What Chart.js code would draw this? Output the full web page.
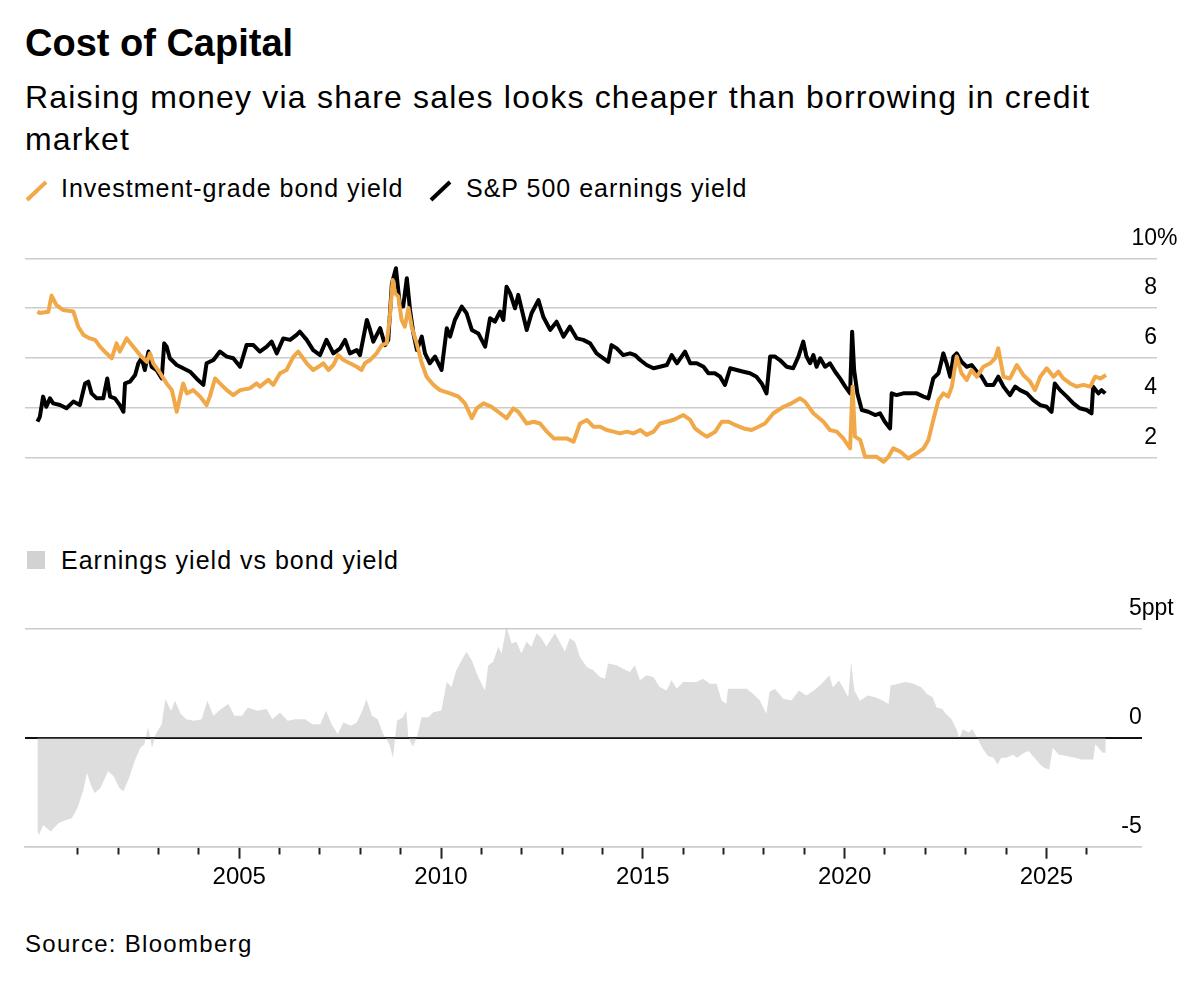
<!DOCTYPE html>
<html>
<head>
<meta charset="utf-8">
<script src="https://cdn.jsdelivr.net/npm/chart.js@4"></script>
<style>
  body { margin: 0; background: #fff; }
  #page { position: relative; width: 1200px; height: 993px; overflow: hidden;
          font-family: "Liberation Sans", Arial, sans-serif; color: #000; }
  .txt { position: absolute; left: 25px; white-space: nowrap; }
  #title { top: 21px; font-size: 38px; line-height: 44px; font-weight: bold; }
  #subtitle { top: 76px; font-size: 32px; line-height: 42px; letter-spacing: 1.2px; white-space: normal; width: 1120px; }
  .leg { position: absolute; font-size: 25px; line-height: 30px; letter-spacing: 1px; white-space: nowrap; }
  #source { top: 930px; font-size: 24px; line-height: 28px; letter-spacing: 1.3px; }
  .box { position: absolute; }
</style>
</head>
<body>
<div id="page">
  <div class="txt" id="title">Cost of Capital</div>
  <div class="txt" id="subtitle">Raising money via share sales looks cheaper than borrowing in credit market</div>

  <svg class="box" style="left:24px;top:179px" width="26" height="24"><line x1="3" y1="21" x2="22" y2="3" stroke="#f0a848" stroke-width="4"/></svg>
  <div class="leg" style="left:61px;top:173px">Investment-grade bond yield</div>
  <svg class="box" style="left:428px;top:179px" width="26" height="24"><line x1="3" y1="21" x2="22" y2="3" stroke="#000" stroke-width="4"/></svg>
  <div class="leg" style="left:466px;top:173px">S&amp;P 500 earnings yield</div>

  <div class="box" style="left:27px;top:551px;width:18px;height:18px;background:#d2d2d2"></div>
  <div class="leg" style="left:61px;top:545px">Earnings yield vs bond yield</div>

  <div class="box" style="left:0;top:220px"><canvas id="top" width="1200" height="280"></canvas></div>
  <div class="box" style="left:0;top:580px"><canvas id="bottom" width="1200" height="320"></canvas></div>

  <div class="txt" id="source">Source: Bloomberg</div>
</div>
<script>
// Investment-grade bond yield (%), dates as decimal years
const bondDates = [2000.00, 2000.06, 2000.27, 2000.35, 2000.47, 2000.64, 2000.89, 2001.01, 2001.14, 2001.30,
  2001.43, 2001.55, 2001.71, 2001.84, 2001.96, 2002.04, 2002.21, 2002.37, 2002.54, 2002.71,
  2002.79, 2002.87, 2003.04, 2003.20, 2003.33, 2003.45, 2003.61, 2003.70, 2003.86, 2004.03,
  2004.19, 2004.27, 2004.40, 2004.52, 2004.69, 2004.85, 2005.02, 2005.26, 2005.43, 2005.51,
  2005.72, 2005.84, 2006.01, 2006.17, 2006.34, 2006.46, 2006.67, 2006.83, 2006.96, 2007.08,
  2007.21, 2007.33, 2007.45, 2007.58, 2007.74, 2007.91, 2008.03, 2008.11, 2008.24, 2008.40,
  2008.53, 2008.65, 2008.73, 2008.80, 2008.86, 2008.94, 2009.02, 2009.10, 2009.19, 2009.27,
  2009.39, 2009.52, 2009.64, 2009.81, 2009.97, 2010.22, 2010.43, 2010.59, 2010.76, 2010.88,
  2011.05, 2011.25, 2011.46, 2011.62, 2011.79, 2011.91, 2012.12, 2012.29, 2012.45, 2012.62,
  2012.79, 2012.95, 2013.11, 2013.28, 2013.44, 2013.61, 2013.77, 2013.94, 2014.10, 2014.27,
  2014.43, 2014.60, 2014.76, 2014.93, 2015.09, 2015.26, 2015.42, 2015.59, 2015.75, 2016.00,
  2016.17, 2016.29, 2016.45, 2016.58, 2016.79, 2016.95, 2017.12, 2017.28, 2017.49, 2017.69,
  2017.86, 2018.02, 2018.23, 2018.48, 2018.68, 2018.89, 2019.01, 2019.22, 2019.47, 2019.63,
  2019.80, 2019.96, 2020.13, 2020.19, 2020.25, 2020.38, 2020.50, 2020.63, 2020.79, 2020.96,
  2021.08, 2021.20, 2021.37, 2021.57, 2021.78, 2021.95, 2022.07, 2022.19, 2022.32, 2022.44,
  2022.56, 2022.65, 2022.77, 2022.89, 2023.02, 2023.14, 2023.27, 2023.43, 2023.60, 2023.72,
  2023.80, 2023.93, 2024.09, 2024.26, 2024.42, 2024.59, 2024.71, 2024.84, 2025.00, 2025.17,
  2025.29, 2025.41, 2025.58, 2025.74, 2025.91, 2026.08, 2026.20, 2026.33, 2026.47];
const bondYield = [7.86, 7.80, 7.85, 8.50, 8.12, 7.92, 7.86, 7.25, 6.92, 6.78,
  6.72, 6.45, 6.18, 5.98, 6.58, 6.25, 6.78, 6.45, 6.11, 5.84,
  6.18, 5.78, 5.38, 4.97, 4.70, 3.83, 4.97, 4.57, 4.70, 4.44,
  4.10, 4.44, 5.17, 4.97, 4.70, 4.50, 4.70, 4.77, 4.97, 4.84,
  5.11, 4.91, 5.38, 5.51, 6.05, 6.25, 5.78, 5.51, 5.64, 5.78,
  5.51, 5.71, 6.11, 5.91, 5.78, 5.64, 5.51, 5.78, 5.91, 6.18,
  6.51, 6.58, 7.65, 9.13, 8.59, 8.46, 7.52, 7.25, 8.00, 7.25,
  6.60, 5.78, 5.24, 4.91, 4.70, 4.57, 4.44, 4.17, 3.57, 3.97,
  4.17, 4.03, 3.77, 3.57, 3.97, 3.83, 3.36, 3.43, 3.36, 3.03,
  2.76, 2.76, 2.76, 2.63, 3.36, 3.50, 3.23, 3.23, 3.10, 3.03,
  2.96, 3.03, 2.96, 3.10, 2.90, 3.03, 3.36, 3.43, 3.50, 3.70,
  3.50, 3.16, 2.96, 2.83, 3.03, 3.43, 3.43, 3.30, 3.16, 3.10,
  3.23, 3.36, 3.77, 4.03, 4.17, 4.37, 4.24, 3.77, 3.43, 3.10,
  3.03, 2.76, 2.36, 4.84, 2.83, 2.70, 2.02, 2.02, 2.02, 1.82,
  2.02, 2.36, 2.23, 1.95, 2.16, 2.36, 2.70, 3.50, 4.30, 4.57,
  4.44, 4.84, 6.05, 5.38, 5.11, 5.51, 5.24, 5.64, 5.78, 5.98,
  6.38, 5.24, 5.17, 5.71, 5.31, 5.04, 4.70, 5.24, 5.58, 5.24,
  5.44, 5.17, 4.97, 4.84, 4.91, 4.84, 5.24, 5.17, 5.31];

// S&P 500 earnings yield (%)
const earnDates = [2000.00, 2000.06, 2000.14, 2000.22, 2000.31, 2000.39, 2000.56, 2000.72, 2000.89, 2001.05,
  2001.18, 2001.26, 2001.34, 2001.47, 2001.63, 2001.73, 2001.80, 2001.92, 2002.04, 2002.13,
  2002.17, 2002.29, 2002.42, 2002.50, 2002.58, 2002.66, 2002.75, 2002.83, 2002.95, 2003.08,
  2003.14, 2003.20, 2003.28, 2003.45, 2003.61, 2003.78, 2003.94, 2004.11, 2004.19, 2004.36,
  2004.52, 2004.69, 2004.85, 2005.02, 2005.18, 2005.35, 2005.51, 2005.68, 2005.80, 2005.93,
  2006.09, 2006.26, 2006.42, 2006.50, 2006.67, 2006.83, 2007.00, 2007.16, 2007.33, 2007.50,
  2007.62, 2007.74, 2007.91, 2007.99, 2008.16, 2008.24, 2008.32, 2008.49, 2008.61, 2008.69,
  2008.78, 2008.88, 2008.98, 2009.06, 2009.15, 2009.23, 2009.31, 2009.40, 2009.52, 2009.60,
  2009.72, 2009.85, 2010.01, 2010.14, 2010.22, 2010.34, 2010.51, 2010.63, 2010.76, 2010.92,
  2011.09, 2011.21, 2011.33, 2011.46, 2011.54, 2011.62, 2011.71, 2011.83, 2011.91, 2012.04,
  2012.12, 2012.24, 2012.41, 2012.53, 2012.70, 2012.86, 2013.03, 2013.19, 2013.36, 2013.52,
  2013.69, 2013.85, 2014.02, 2014.14, 2014.22, 2014.35, 2014.51, 2014.68, 2014.80, 2014.93,
  2015.09, 2015.26, 2015.42, 2015.59, 2015.71, 2015.84, 2016.04, 2016.17, 2016.33, 2016.50,
  2016.62, 2016.78, 2016.91, 2017.03, 2017.16, 2017.32, 2017.49, 2017.65, 2017.81, 2017.94,
  2018.06, 2018.15, 2018.27, 2018.39, 2018.56, 2018.72, 2018.85, 2018.97, 2019.05, 2019.14,
  2019.22, 2019.30, 2019.39, 2019.51, 2019.63, 2019.76, 2019.88, 2020.01, 2020.13, 2020.18,
  2020.23, 2020.31, 2020.42, 2020.58, 2020.75, 2020.87, 2020.99, 2021.12, 2021.16, 2021.28,
  2021.45, 2021.61, 2021.78, 2021.95, 2022.07, 2022.19, 2022.32, 2022.44, 2022.52, 2022.61,
  2022.69, 2022.77, 2022.89, 2023.02, 2023.14, 2023.27, 2023.39, 2023.51, 2023.68, 2023.80,
  2023.93, 2024.09, 2024.22, 2024.34, 2024.51, 2024.67, 2024.84, 2025.00, 2025.12, 2025.20,
  2025.33, 2025.50, 2025.66, 2025.82, 2025.99, 2026.11, 2026.15, 2026.28, 2026.36, 2026.45];
const earnYield = [3.43, 3.63, 4.44, 4.03, 4.37, 4.17, 4.10, 3.97, 4.24, 4.10,
  4.97, 5.04, 4.57, 4.37, 4.37, 5.17, 4.44, 4.37, 4.10, 3.83,
  4.97, 5.04, 5.31, 5.78, 5.98, 5.51, 6.25, 5.64, 5.51, 5.17,
  6.58, 6.45, 5.98, 5.71, 5.58, 5.44, 5.17, 4.91, 5.78, 5.91,
  6.25, 6.05, 5.98, 5.64, 6.51, 6.51, 6.25, 6.45, 6.65, 6.18,
  6.78, 6.72, 6.92, 7.05, 6.72, 6.31, 6.11, 6.72, 6.18, 6.38,
  6.72, 6.18, 6.31, 6.11, 7.52, 7.12, 6.65, 7.19, 6.51, 6.72,
  8.99, 9.60, 8.06, 8.06, 9.20, 7.92, 7.00, 6.31, 6.85, 6.18,
  5.78, 6.05, 5.51, 7.19, 6.85, 7.52, 8.06, 7.79, 7.12, 6.98,
  6.45, 7.59, 7.45, 7.86, 7.52, 8.86, 8.59, 7.99, 8.53, 7.65,
  7.12, 7.79, 8.32, 7.65, 7.12, 7.45, 6.85, 7.25, 6.78, 6.72,
  6.58, 6.18, 5.98, 5.84, 6.51, 6.38, 6.11, 6.18, 6.11, 5.91,
  5.71, 5.58, 5.64, 5.71, 6.11, 5.78, 6.25, 5.78, 5.78, 5.64,
  5.38, 5.38, 5.24, 4.91, 5.58, 5.51, 5.44, 5.38, 5.24, 4.97,
  4.57, 6.05, 6.05, 5.91, 5.64, 5.58, 6.05, 6.65, 6.05, 5.78,
  6.11, 5.64, 5.98, 5.64, 5.78, 5.44, 5.17, 4.84, 4.57, 7.05,
  5.51, 4.57, 3.90, 3.83, 3.70, 3.77, 3.43, 3.16, 4.57, 4.50,
  4.57, 4.57, 4.57, 4.44, 4.37, 5.17, 5.38, 6.18, 5.78, 5.24,
  6.05, 6.18, 5.84, 5.64, 5.71, 5.44, 5.24, 4.91, 4.91, 5.24,
  4.84, 4.50, 4.84, 4.70, 4.57, 4.30, 4.10, 4.03, 3.83, 4.97,
  4.70, 4.44, 4.17, 3.97, 3.90, 3.77, 4.84, 4.57, 4.70, 4.57];

// Earnings yield minus bond yield (percentage points)
const spreadDates = [2000.00, 2000.04, 2000.14, 2000.33, 2000.52, 2000.71, 2000.85, 2000.99, 2001.13, 2001.23,
  2001.32, 2001.42, 2001.56, 2001.75, 2001.89, 2002.03, 2002.13, 2002.27, 2002.41, 2002.55,
  2002.65, 2002.74, 2002.84, 2002.93, 2003.08, 2003.17, 2003.31, 2003.41, 2003.55, 2003.69,
  2003.88, 2004.07, 2004.21, 2004.36, 2004.55, 2004.73, 2004.88, 2005.07, 2005.21, 2005.45,
  2005.68, 2005.82, 2006.01, 2006.20, 2006.39, 2006.63, 2006.82, 2007.01, 2007.15, 2007.29,
  2007.44, 2007.58, 2007.77, 2007.91, 2008.05, 2008.15, 2008.29, 2008.43, 2008.57, 2008.72,
  2008.81, 2008.91, 2009.05, 2009.14, 2009.19, 2009.30, 2009.40, 2009.52, 2009.69, 2009.81,
  2010.01, 2010.14, 2010.26, 2010.38, 2010.51, 2010.63, 2010.76, 2010.92, 2011.09, 2011.17,
  2011.29, 2011.42, 2011.50, 2011.62, 2011.75, 2011.87, 2011.99, 2012.12, 2012.24, 2012.37,
  2012.49, 2012.61, 2012.82, 2012.94, 2013.07, 2013.19, 2013.32, 2013.44, 2013.61, 2013.77,
  2013.94, 2014.06, 2014.14, 2014.35, 2014.51, 2014.68, 2014.80, 2014.93, 2015.09, 2015.26,
  2015.42, 2015.59, 2015.71, 2015.84, 2016.00, 2016.17, 2016.33, 2016.49, 2016.66, 2016.83,
  2016.95, 2017.07, 2017.11, 2017.32, 2017.57, 2017.73, 2017.90, 2018.06, 2018.14, 2018.27,
  2018.48, 2018.68, 2018.87, 2019.05, 2019.24, 2019.43, 2019.62, 2019.71, 2019.86, 2020.00,
  2020.09, 2020.16, 2020.24, 2020.38, 2020.57, 2020.76, 2020.95, 2021.09, 2021.14, 2021.33,
  2021.52, 2021.71, 2021.90, 2022.04, 2022.18, 2022.28, 2022.42, 2022.51, 2022.65, 2022.79,
  2022.84, 2022.93, 2023.07, 2023.17, 2023.26, 2023.41, 2023.55, 2023.69, 2023.79, 2023.88,
  2024.02, 2024.17, 2024.27, 2024.45, 2024.56, 2024.70, 2024.85, 2024.94, 2025.07, 2025.16,
  2025.30, 2025.49, 2025.71, 2025.87, 2026.06, 2026.16, 2026.21, 2026.40, 2026.47];
const spreadValues = [-4.30, -4.46, -4.00, -4.30, -3.92, -3.77, -3.69, -3.23, -2.45, -1.60,
  -2.15, -2.53, -2.30, -1.53, -1.76, -2.30, -2.45, -1.84, -1.06, -0.45,
  -0.29, 0.48, -0.45, 0.17, 0.63, 1.79, 1.25, 1.71, 1.10, 0.86,
  0.79, 0.86, 1.71, 1.02, 1.33, 1.56, 1.02, 1.02, 1.40, 1.25,
  1.33, 0.86, 1.17, 0.79, 0.86, 0.86, 0.63, 0.63, 1.25, 0.63,
  0.17, 0.71, 0.56, 0.71, 1.25, 1.79, 1.02, 0.86, 0.17, -0.29,
  -0.91, 0.79, 0.94, 1.25, 0.03, -0.40, 0.00, 0.95, 0.95, 1.18,
  1.26, 2.57, 2.34, 3.10, 3.57, 3.95, 3.57, 2.80, 2.18, 3.34,
  3.49, 4.18, 3.88, 5.10, 4.34, 4.42, 3.88, 4.42, 4.18, 4.80,
  4.57, 4.18, 4.80, 4.42, 3.95, 4.57, 4.42, 3.72, 3.26, 3.10,
  2.80, 2.72, 3.42, 3.34, 3.18, 3.03, 3.34, 2.65, 2.88, 2.80,
  2.34, 2.18, 2.65, 2.26, 2.57, 2.57, 2.57, 2.72, 2.49, 2.49,
  1.72, 1.57, 2.26, 2.26, 2.26, 2.03, 1.72, 1.11, 2.11, 2.26,
  1.80, 1.72, 2.18, 1.94, 2.18, 2.48, 2.87, 2.33, 2.64, 2.18,
  1.87, 3.49, 2.18, 1.71, 1.94, 1.87, 1.71, 1.56, 2.41, 2.48,
  2.56, 2.48, 2.33, 2.02, 1.87, 1.40, 1.33, 1.10, 0.86, 0.32,
  -0.06, 0.40, 0.25, 0.40, 0.09, -0.45, -0.83, -0.91, -1.22, -0.91,
  -0.91, -0.76, -0.91, -0.68, -0.60, -0.91, -1.22, -1.37, -1.45, -0.45,
  -0.76, -0.83, -0.91, -0.99, -0.99, -0.99, -0.29, -0.68, -0.68];

const yearTicks = [2001, 2002, 2003, 2004, 2005, 2006, 2007, 2008, 2009, 2010, 2011, 2012, 2013,
  2014, 2015, 2016, 2017, 2018, 2019, 2020, 2021, 2022, 2023, 2024, 2025, 2026];
const labeledYears = [2005, 2010, 2015, 2020, 2025];
const topTicks = [2, 4, 6, 8, 10];
const bottomTicks = [-5, 0, 5];

const FONT = '"Liberation Sans", Arial, sans-serif';
Chart.defaults.font.family = FONT;
Chart.defaults.color = '#000';

const toPoints = (xs, ys) => xs.map((x, i) => ({ x: x, y: ys[i] }));

// writes the unit next to the top tick label, the way Bloomberg hangs it off the axis
const unitSuffix = {
  id: 'unitSuffix',
  afterDraw(chart, args, opts) {
    const y = chart.scales.y;
    const ctx = chart.ctx;
    ctx.save();
    ctx.font = '23px ' + FONT;
    ctx.fillStyle = '#000';
    ctx.textAlign = 'left';
    ctx.textBaseline = 'middle';
    ctx.fillText(opts.text, chart.chartArea.right, y.getPixelForValue(opts.value) - 20);
    ctx.restore();
  }
};

new Chart(document.getElementById('top'), {
  type: 'line',
  data: {
    datasets: [
      { label: 'Investment-grade bond yield', data: toPoints(bondDates, bondYield),
        borderColor: '#f0a848', borderWidth: 4, pointRadius: 0, borderJoinStyle: 'round' },
      { label: 'S&P 500 earnings yield', data: toPoints(earnDates, earnYield),
        borderColor: '#000', borderWidth: 4, pointRadius: 0, borderJoinStyle: 'round' }
    ]
  },
  options: {
    responsive: false,
    animation: false,
    layout: { padding: { left: 25, right: 43, top: 38.3, bottom: 22.8 } },
    plugins: { legend: { display: false }, tooltip: { enabled: false },
               unitSuffix: { text: '%', value: 10 } },
    scales: {
      x: { type: 'linear', min: 1999.692, max: 2027.732, display: false },
      y: {
        position: 'right', min: 1.2, max: 10,
        afterBuildTicks: s => { s.ticks = topTicks.map(v => ({ value: v })); },
        grid: { color: '#cccccc', lineWidth: 1.5, drawTicks: false },
        border: { display: false },
        ticks: { mirror: true, padding: 0, labelOffset: -20, font: { size: 23 }, color: '#000' }
      }
    }
  },
  plugins: [unitSuffix]
});

new Chart(document.getElementById('bottom'), {
  type: 'line',
  data: {
    datasets: [
      { label: 'Earnings yield vs bond yield', data: toPoints(spreadDates, spreadValues),
        fill: 'origin', backgroundColor: 'rgba(170,170,170,0.4)', borderWidth: 0, pointRadius: 0 }
    ]
  },
  options: {
    responsive: false,
    animation: false,
    layout: { padding: { left: 25, right: 58.3, top: 40.3, bottom: 0 } },
    plugins: { legend: { display: false }, tooltip: { enabled: false },
               unitSuffix: { text: 'ppt', value: 5 } },
    scales: {
      x: {
        type: 'linear', min: 1999.692, max: 2027.361, position: 'bottom',
        afterBuildTicks: s => { s.ticks = yearTicks.map(v => ({ value: v })); },
        afterFit: s => { s.height = 53.3; },
        grid: {
          drawOnChartArea: false, tickLength: 12, tickWidth: 2, tickColor: '#222',
          tickBorderDash: c => (c.tick && labeledYears.includes(c.tick.value)) ? [] : [7, 30]
        },
        border: { color: '#cccccc', width: 1.5 },
        ticks: {
          autoSkip: false, maxRotation: 0, padding: 4, font: { size: 24 }, color: '#000',
          callback: v => labeledYears.includes(v) ? String(v) : ''
        }
      },
      y: {
        position: 'right', min: -5, max: 5.4,
        afterBuildTicks: s => { s.ticks = bottomTicks.map(v => ({ value: v })); },
        grid: {
          color: c => c.tick && c.tick.value === 0 ? '#111' : '#cccccc',
          lineWidth: c => c.tick && c.tick.value === 0 ? 2 : 1.5,
          drawTicks: false
        },
        border: { display: false },
        ticks: { mirror: true, padding: 0, labelOffset: -20, font: { size: 23 }, color: '#000' }
      }
    }
  },
  plugins: [unitSuffix]
});
</script>
</body>
</html>
